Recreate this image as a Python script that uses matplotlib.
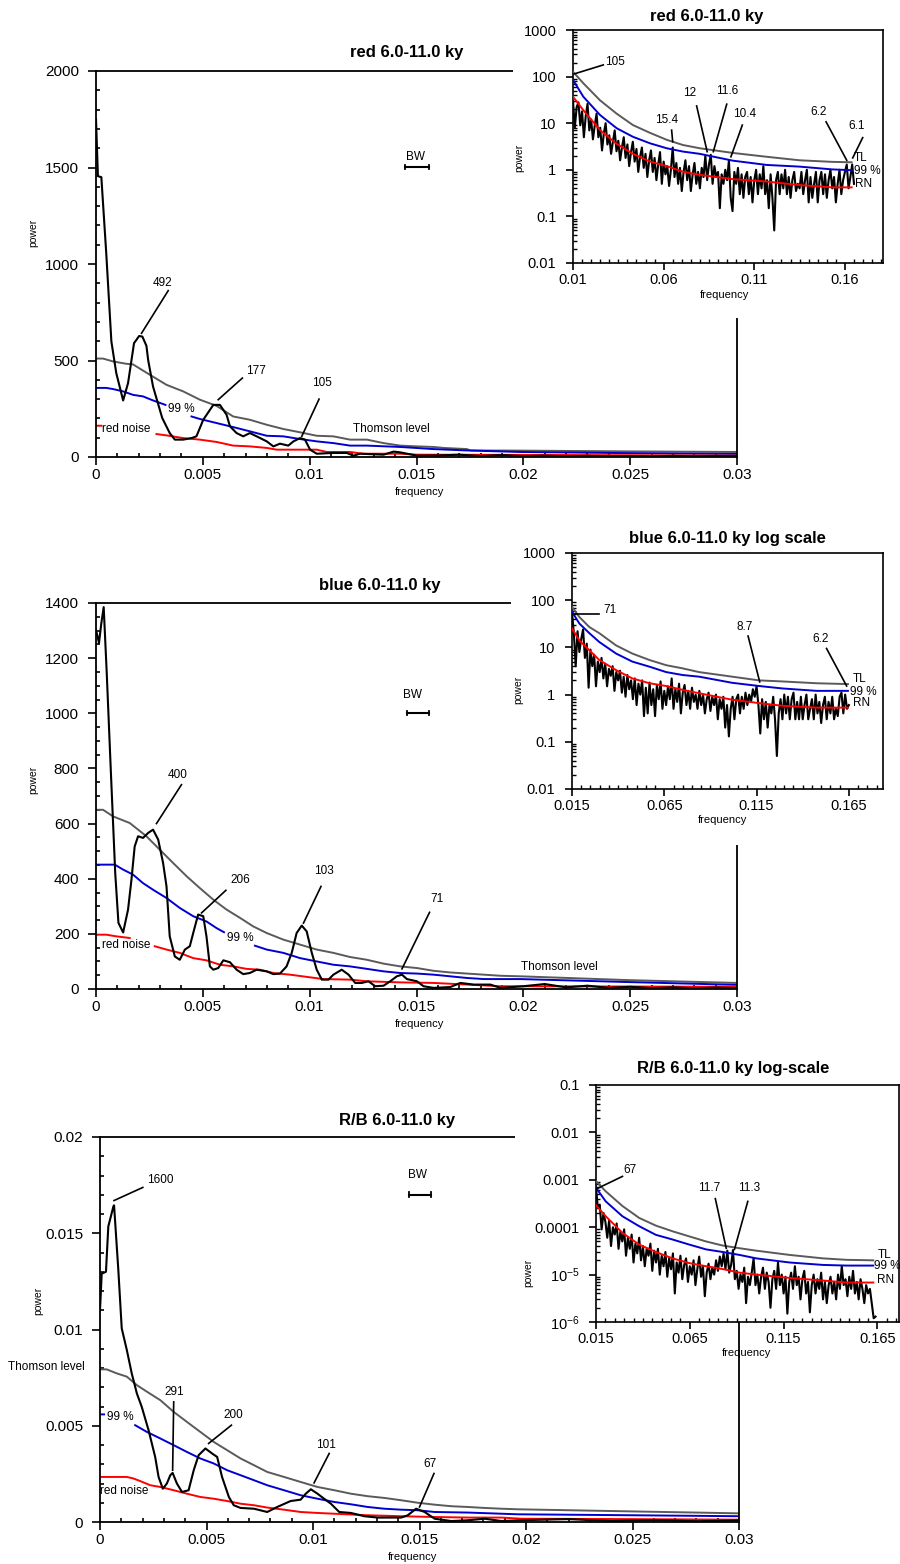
import numpy as np
import matplotlib.pyplot as plt
from matplotlib.patches import Rectangle
from matplotlib.ticker import (MultipleLocator, FixedLocator, FixedFormatter,
                               FormatStrFormatter, LogLocator, NullFormatter)

plt.rcParams['font.family'] = ['Liberation Sans', 'DejaVu Sans']
plt.rcParams['mathtext.default'] = 'regular'

GRAY = '#5a5a5a'
BLUE = '#0000d0'
RED = '#ff0000'

# ---------------- red, linear spectrum ----------------
red_f = [0, 0.00009, 0.00025, 0.00048, 0.00072, 0.00095, 0.00127, 0.0015, 0.00178, 0.00202,
         0.00217, 0.00236, 0.00244, 0.00267, 0.0031, 0.00345, 0.00369, 0.00408, 0.00447, 0.0047,
         0.00502, 0.00549, 0.0058, 0.00611, 0.00627, 0.00658, 0.00689, 0.0072, 0.00752, 0.00799,
         0.0083, 0.00861, 0.009, 0.00924, 0.00955, 0.00978, 0.01002, 0.01033, 0.01111, 0.01174,
         0.01205, 0.01236, 0.01346, 0.01393, 0.01424, 0.01502, 0.016, 0.017, 0.018, 0.019,
         0.02, 0.021, 0.022, 0.023, 0.024, 0.025, 0.026, 0.027, 0.028, 0.029, 0.03]
red_p = [1750, 1455, 1450, 1055, 598, 434, 293, 383, 590, 627,
         624, 576, 503, 365, 202, 124, 90, 90, 98, 107,
         193, 270, 270, 219, 159, 124, 107, 124, 107, 81,
         55, 69, 59, 81, 98, 90, 38, 17, 21, 21,
         7, 17, 12, 28, 24, 7, 8, 12, 5, 10,
         4, 7, 3, 6, 3, 5, 2, 6, 3, 5, 4]
red_tl_f = [0, 0.00033, 0.0008, 0.00142, 0.00173, 0.00252, 0.0033, 0.00408, 0.00486, 0.00564,
            0.00642, 0.0072, 0.00799, 0.00877, 0.00955, 0.01033, 0.01111, 0.01189, 0.01268, 0.01346,
            0.01424, 0.01502, 0.0158, 0.01627, 0.01736, 0.01752, 0.02, 0.025, 0.03]
red_tl_p = [510, 510, 495, 483, 480, 426, 374, 340, 297, 265,
            210, 193, 167, 145, 128, 110, 107, 90, 90, 72,
            59, 55, 52, 47, 41, 34, 33, 29, 26]
red_99_f = [0, 0.00048, 0.0008, 0.00127, 0.00173, 0.0022, 0.00267, 0.00325, 0.0038, 0.00447,
            0.00486, 0.00564, 0.00642, 0.0072, 0.00799, 0.00877, 0.00955, 0.01033, 0.01111, 0.01189,
            0.01268, 0.01424, 0.0158, 0.01736, 0.01987, 0.025, 0.03]
red_99_p = [358, 358, 352, 340, 322, 314, 293, 270, np.nan, 210,
            197, 176, 155, 133, 110, 107, 93, 81, 72, 59,
            59, 52, 41, 34, 26, 20, 16]
red_rn_f = [0, 0.00025, 0.0015, 0.00283, 0.0033, 0.00408, 0.00486, 0.00564, 0.00642, 0.0072,
            0.00799, 0.00846, 0.00955, 0.01033, 0.0108, 0.01189, 0.0125, 0.01424, 0.01502, 0.02,
            0.025, 0.03]
red_rn_p = [162, 162, np.nan, 119, 112, 98, 90, 78, 59, 55,
            47, 38, 38, 38, 26, 26, 17, 17, 12, 11,
            9, 7]
red_notes = [("492", (0.0031, 903), (0.00338, 862), (0.00213, 641)),
             ("177", (0.00747, 446), (0.00685, 409), (0.00572, 297)),
             ("105", (0.01057, 383), (0.01044, 300), (0.00963, 107))]

# ---------------- blue, linear spectrum ----------------
blue_f = [0, 0.00014, 0.00025, 0.00036, 0.0005, 0.0007, 0.0009, 0.00105, 0.00127, 0.0015,
          0.00166, 0.00181, 0.00197, 0.0022, 0.00244, 0.00267, 0.00291, 0.00314, 0.0033, 0.00345,
          0.00369, 0.00392, 0.00416, 0.00439, 0.00455, 0.00478, 0.00502, 0.00517, 0.00533, 0.00549,
          0.00572, 0.00596, 0.00627, 0.00658, 0.00689, 0.0072, 0.00752, 0.00799, 0.0083, 0.00861,
          0.00892, 0.00916, 0.00939, 0.00963, 0.00986, 0.0101, 0.01033, 0.01057, 0.01088, 0.01111,
          0.0115, 0.01182, 0.01213, 0.01244, 0.01275, 0.01307, 0.01346, 0.01377, 0.01408, 0.01432,
          0.01455, 0.01502, 0.01533, 0.0158, 0.01658, 0.01705, 0.01768, 0.01846, 0.01893, 0.02,
          0.021, 0.022, 0.023, 0.024, 0.025, 0.026, 0.027, 0.028, 0.029, 0.03]
blue_p = [1303, 1255, 1327, 1385, 1150, 780, 420, 240, 205, 288,
          397, 517, 554, 548, 566, 578, 542, 457, 372, 191,
          118, 106, 143, 155, 203, 270, 264, 191, 82, 70,
          76, 104, 97, 70, 54, 58, 70, 64, 54, 56,
          82, 131, 203, 230, 209, 131, 70, 34, 34, 52,
          70, 52, 22, 22, 28, 10, 12, 28, 46, 52,
          36, 28, 10, 4, 7, 22, 16, 16, 4, 10,
          18, 6, 12, 4, 8, 3, 6, 2, 5, 3]
blue_tl_f = [0, 0.00033, 0.0008, 0.00158, 0.00236, 0.00299, 0.00361, 0.00424, 0.00486, 0.00549,
             0.00611, 0.00674, 0.00736, 0.00799, 0.00877, 0.00955, 0.01033, 0.01111, 0.01189, 0.01268,
             0.01346, 0.01424, 0.01502, 0.0158, 0.01658, 0.01736, 0.01815, 0.01893, 0.01987, 0.025, 0.03]
blue_tl_p = [650, 650, 626, 602, 554, 505, 457, 409, 366, 324,
             288, 258, 227, 203, 179, 161, 143, 131, 116, 106,
             92, 82, 76, 66, 60, 56, 52, 48, 46, 32, 22]
blue_99_f = [0, 0.00088, 0.00127, 0.00173, 0.0022, 0.00267, 0.0033, 0.00392, 0.00455, 0.00517,
             0.00564, 0.00599, 0.0067, 0.00744, 0.00799, 0.00877, 0.00955, 0.01033, 0.01111, 0.01189,
             0.01268, 0.01346, 0.01424, 0.01502, 0.0158, 0.01658, 0.01736, 0.01815, 0.01987, 0.025, 0.03]
blue_99_p = [451, 451, 433, 415, 384, 360, 330, 294, 264, 245,
             221, 206, np.nan, 157, 143, 131, 112, 100, 88, 82,
             73, 64, 58, 56, 52, 46, 40, 36, 36, 25, 15]
blue_rn_f = [0, 0.00048, 0.00095, 0.00158, 0.002, 0.00275, 0.0033, 0.00392, 0.00455, 0.00517,
             0.0058, 0.00642, 0.00705, 0.00767, 0.0083, 0.00908, 0.00986, 0.01064, 0.01189, 0.01268,
             0.01424, 0.0158, 0.01736, 0.01893, 0.025, 0.03]
blue_rn_p = [197, 197, 191, 185, np.nan, 155, 143, 131, 112, 104,
             88, 82, 73, 70, 58, 52, 44, 36, 34, 28,
             24, 22, 16, 10, 9, 8]
blue_notes = [("400", (0.00384, 777), (0.004, 741), (0.00283, 600)),
              ("206", (0.00674, 394), (0.00608, 358), (0.00494, 276)),
              ("103", (0.01068, 427), (0.01053, 372), (0.00971, 239)),
              ("71", (0.01596, 326), (0.01561, 278), (0.01432, 73))]

# ---------------- R/B, linear spectrum ----------------
rb_f = [0, 0.00008, 0.00028, 0.00039, 0.00063, 0.00066, 0.00086, 0.00102, 0.00126, 0.00149,
        0.00173, 0.00196, 0.00228, 0.00259, 0.00275, 0.00295, 0.00314, 0.0033, 0.00341, 0.00361,
        0.00385, 0.00416, 0.0044, 0.00463, 0.00495, 0.00526, 0.0055, 0.00573, 0.00605, 0.00628,
        0.0066, 0.00723, 0.00785, 0.00832, 0.00895, 0.00942, 0.00966, 0.0099, 0.01021, 0.01052,
        0.01084, 0.01123, 0.01178, 0.01241, 0.01304, 0.01414, 0.01445, 0.01484, 0.01524, 0.01571,
        0.01649, 0.01728, 0.01806, 0.01885, 0.02, 0.022, 0.024, 0.026, 0.028, 0.03]
rb_p = [0.0110, 0.0129, 0.0130, 0.01535, 0.0164, 0.01645, 0.0131, 0.01006, 0.00893, 0.00772,
        0.00668, 0.00598, 0.00477, 0.00338, 0.00234, 0.00173, 0.002, 0.00243, 0.00255, 0.002,
        0.00156, 0.00165, 0.00269, 0.00347, 0.00382, 0.00356, 0.00338, 0.00234, 0.0013, 0.00087,
        0.00073, 0.00069, 0.00052, 0.00078, 0.00109, 0.00116, 0.00147, 0.0017, 0.00147, 0.00121,
        0.00095, 0.00052, 0.00047, 0.0003, 0.00023, 0.00023, 0.00035, 0.00069, 0.00052, 0.00017,
        0.00005, 0.00009, 0.00017, 0.00005, 0.0001, 0.00015, 0.00005, 0.0001, 0.00004, 0.00008]
rb_tl_f = [0, 0.00031, 0.00079, 0.00126, 0.00173, 0.0022, 0.00283, 0.00346, 0.00408, 0.00471,
           0.00534, 0.00597, 0.0066, 0.00723, 0.00785, 0.00864, 0.00942, 0.01021, 0.011, 0.01178,
           0.01257, 0.01335, 0.01414, 0.01492, 0.01571, 0.01649, 0.01728, 0.01806, 0.01885, 0.01963,
           0.025, 0.03]
rb_tl_p = [0.00793, 0.00793, 0.00772, 0.00755, 0.00711, 0.00677, 0.00633, 0.00572, 0.0052, 0.00468,
           0.00416, 0.00373, 0.0033, 0.00295, 0.0026, 0.00234, 0.00208, 0.00182, 0.00165, 0.00147,
           0.00134, 0.00125, 0.00113, 0.001, 0.0009, 0.00082, 0.00078, 0.00073, 0.00069, 0.00066,
           0.00055, 0.00045]
rb_99_f = [0, 0.00019, 0.001, 0.00165, 0.0022, 0.00283, 0.00346, 0.00408, 0.00471, 0.00534,
           0.00597, 0.0066, 0.00723, 0.00785, 0.00864, 0.00942, 0.01021, 0.011, 0.01178, 0.01257,
           0.01335, 0.01414, 0.01492, 0.01571, 0.01728, 0.01885, 0.01963, 0.025, 0.03]
rb_99_p = [0.00559, 0.00559, np.nan, 0.00503, 0.00468, 0.00434, 0.00399, 0.00364, 0.0033, 0.00304,
           0.00269, 0.00243, 0.00217, 0.00191, 0.00165, 0.00139, 0.00121, 0.00104, 0.00092, 0.00078,
           0.00069, 0.00064, 0.00061, 0.00052, 0.00049, 0.00043, 0.0004, 0.00035, 0.0003]
rb_rn_f = [0, 0.00126, 0.00157, 0.00188, 0.00236, 0.00283, 0.00346, 0.00408, 0.00471, 0.00534,
           0.00597, 0.0066, 0.00723, 0.00785, 0.00864, 0.00942, 0.01021, 0.011, 0.01257, 0.01414,
           0.01571, 0.01728, 0.01885, 0.01979, 0.025, 0.03]
rb_rn_p = [0.00234, 0.00234, 0.00226, 0.00213, 0.00191, 0.00182, 0.00165, 0.00147, 0.0013, 0.00121,
           0.00109, 0.00095, 0.00087, 0.00075, 0.00064, 0.00052, 0.00047, 0.00043, 0.00035, 0.0003,
           0.00026, 0.00023, 0.00023, 0.00017, 0.00015, 0.00012]
rb_notes = [("1600", (0.00283, 0.01778), (0.00201, 0.01738), (0.00066, 0.0167)),
            ("291", (0.00349, 0.00673), (0.00346, 0.00624), (0.00341, 0.00269)),
            ("200", (0.00624, 0.00555), (0.00617, 0.00503), (0.0051, 0.00408)),
            ("101", (0.0106, 0.00399), (0.01076, 0.00356), (0.01005, 0.00203)),
            ("67", (0.0155, 0.0030), (0.01568, 0.00252), (0.015, 0.00078))]

# ---------------- log-scale spectra (1 per 0.001 step) ----------------
red_log_p = [30, 8, 22, 28, 9, 18, 5, 14, 26, 7,
             12, 4.5, 9, 16, 5, 8, 2.6, 6, 10, 3.5,
             5.5, 2.2, 4, 7, 2.5, 4.2, 1.6, 3, 5, 1.8,
             3.5, 1.2, 2.4, 4, 1.5, 2.8, 0.9, 1.9, 3, 1.1,
             2.2, 0.7, 1.6, 2.6, 0.9, 1.8, 0.6, 1.3, 2.4, 0.5,
             1.5, 0.8, 1.2, 0.45, 1.0, 3.0, 0.7, 1.4, 0.5, 1.1,
             0.35, 0.9, 1.6, 0.6, 1.2, 0.35, 0.8, 1.4, 0.5, 0.9,
             0.4, 1.1, 0.7, 2.0, 0.6, 1.3, 2.1, 0.5, 1.2, 0.7,
             0.9, 0.15, 0.8, 0.5, 1.0, 0.6, 1.6, 0.25, 0.13, 0.9,
             0.5, 1.1, 0.3, 0.8, 0.25, 0.7, 0.9, 0.3, 0.7, 0.2,
             0.6, 1.0, 0.3, 0.8, 0.4, 1.2, 0.3, 0.6, 0.15, 0.8,
             0.25, 0.05, 0.6, 0.9, 0.3, 0.8, 0.4, 1.0, 0.3, 0.7,
             0.25, 0.6, 0.9, 0.35, 0.5, 0.4, 0.9, 0.3, 0.6, 1.0,
             0.2, 0.7, 0.25, 0.5, 0.9, 0.2, 0.6, 0.9, 0.3, 0.8,
             0.25, 0.6, 1.0, 0.4, 0.7, 0.2, 0.5, 1.0, 0.3, 0.6,
             0.9, 1.3, 0.4, 0.7, 1.3, 0.5]
red_log_tl_f = [0.01, 0.0157, 0.0249, 0.0341, 0.0431, 0.0525, 0.0617, 0.0707, 0.0799, 0.0982,
                0.117, 0.135, 0.153, 0.1637]
red_log_tl_p = [127, 72, 31, 16, 9.1, 6.2, 4.4, 3.4, 2.9, 2.3, 1.9, 1.6, 1.48, 1.45]
red_log_99_p = [85, 37, 15, 7.8, 5.1, 3.7, 2.9, 2.46, 2.2, 1.57, 1.27, 1.17, 1.02, 0.98]
red_log_rn_p = [37, 19, 7.1, 3.6, 2.2, 1.5, 1.2, 0.91, 0.78, 0.63, 0.56, 0.47, 0.42, 0.42]
red_log_notes = [("105", (0.0332, 209), (0.0267, 178), (0.0106, 114)),
                 ("15.4", (0.0617, 11.7), (0.0644, 7.1), (0.065, 4.0)),
                 ("12", (0.0745, 44), (0.0782, 23.5), (0.084, 2.45)),
                 ("11.6", (0.0948, 50), (0.0948, 25.6), (0.0874, 2.45)),
                 ("10.4", (0.1049, 15.8), (0.1034, 9.1), (0.0971, 1.9)),
                 ("6.2", (0.1453, 17.7), (0.1496, 10.7), (0.161, 1.6)),
                 ("6.1", (0.1665, 8.9), (0.1698, 4.9), (0.1643, 1.8))]
red_log_keys = [(0.165, 1.78), (0.165, 0.95), (0.1655, 0.49)]

blue_log_p = [55, 20, 4, 22, 8, 15, 24, 6, 12, 1.4,
              9, 4, 7, 1.5, 5, 3, 6, 2.2, 4.5, 1.5,
              3.5, 2.5, 4, 1.2, 3, 2, 3.2, 1.1, 2.4, 0.9,
              2.6, 1.3, 2.0, 0.8, 2.2, 0.6, 1.7, 1.0, 2.0, 0.35,
              1.4, 0.4, 1.8, 0.6, 1.3, 0.35, 1.6, 0.8, 1.9, 0.5,
              1.2, 0.6, 1.5, 0.8, 2.2, 0.5, 1.3, 0.7, 1.7, 0.4,
              1.1, 1.6, 0.6, 1.2, 0.5, 1.4, 0.7, 1.0, 0.5, 1.2,
              0.6, 1.0, 0.4, 0.8, 1.1, 0.45, 0.9, 0.6, 1.0, 0.3,
              0.8, 0.5, 0.9, 0.2, 0.6, 0.13, 0.5, 0.9, 0.3, 0.8,
              1.0, 0.4, 0.9, 0.5, 1.1, 0.6, 1.0, 0.7, 1.3, 0.9,
              1.5, 0.6, 0.15, 0.8, 0.3, 0.7, 0.2, 0.6, 0.4, 0.9,
              0.3, 0.05, 0.4, 0.8, 0.3, 1.0, 0.4, 0.9, 0.3, 0.8,
              1.1, 0.3, 0.7, 0.3, 0.9, 0.3, 0.6, 1.0, 0.3, 0.5,
              0.8, 0.3, 1.0, 0.4, 0.7, 0.25, 0.6, 0.9, 0.3, 0.7,
              0.4, 0.9, 0.3, 0.5, 0.35, 0.9, 1.1, 0.4, 1.0, 0.5,
              0.6]
blue_log_tl_f = [0.015, 0.019, 0.0244, 0.0298, 0.0389, 0.0477, 0.057, 0.066, 0.0749, 0.0838,
                 0.1017, 0.1164, 0.129, 0.1475, 0.1645]
blue_log_tl_p = [72, 44, 27, 20, 11, 7.4, 5.4, 4.2, 3.6, 3.0, 2.4, 2.0, 1.9, 1.74, 1.67]
blue_log_99_p = [57, 32, 20, 13, 7.4, 5.0, 3.9, 3.0, 2.6, 2.4, 1.78, 1.52, 1.35, 1.2, 1.2]
blue_log_rn_p = [25, 14, 8.7, 5.4, 3.3, 2.2, 1.74, 1.52, 1.26, 1.07, 0.78, 0.66, 0.58, 0.53, 0.53]
blue_log_notes = [("71", (0.0358, 62), (0.0298, 52), (0.0150, 52)),
                  ("8.7", (0.1086, 27.5), (0.1104, 17.4), (0.1167, 1.86)),
                  ("6.2", (0.1498, 15), (0.1529, 9.5), (0.1638, 1.52))]
blue_log_keys = [(0.167, 2.14), (0.1656, 1.15), (0.167, 0.65)]

rb_log_p = [7e-4, 2.5e-4, 3.0e-4, 9e-5, 2.0e-4, 1.3e-4, 6e-5, 1.4e-4, 4e-5, 1.0e-4,
            7e-5, 1.2e-4, 3.5e-5, 8e-5, 5e-5, 9e-5, 2.5e-5, 6e-5, 3.5e-5, 7e-5,
            1.8e-5, 4.5e-5, 2.8e-5, 6e-5, 2.0e-5, 4e-5, 1.5e-5, 3.5e-5, 2.5e-5, 4.5e-5,
            1.2e-5, 3.2e-5, 1.8e-5, 3.5e-5, 1.0e-5, 2.5e-5, 1.5e-5, 3.0e-5, 9e-6, 2.2e-5,
            1.3e-5, 2.8e-5, 4e-6, 1.8e-5, 1.1e-5, 2.5e-5, 8e-6, 1.6e-5, 2.2e-5, 7e-6,
            1.5e-5, 1.0e-5, 2.0e-5, 6e-6, 1.3e-5, 2.4e-5, 9e-6, 1.5e-5, 3.5e-6, 1.1e-5,
            1.7e-5, 8e-6, 1.4e-5, 1.0e-5, 2.0e-5, 1.2e-5, 2.4e-5, 1.5e-5, 2.8e-5, 1.3e-5,
            3.2e-5, 1.1e-5, 1.6e-5, 3.3e-5, 8e-6, 1.2e-5, 5e-6, 1.0e-5, 7e-6, 1.4e-5,
            2.5e-6, 9e-6, 6e-6, 1.1e-5, 2.2e-5, 6e-6, 1.0e-5, 4e-6, 9e-6, 1.4e-5,
            5e-6, 1.1e-5, 7e-6, 2.0e-6, 8e-6, 1.2e-5, 5e-6, 1.8e-5, 6e-6, 1.0e-5,
            4e-6, 9e-6, 1.5e-6, 7e-6, 1.1e-5, 5e-6, 1.5e-5, 6e-6, 9e-6, 3e-6,
            8e-6, 1.2e-5, 4e-6, 7e-6, 1.6e-6, 6e-6, 1.0e-5, 4e-6, 8e-6, 5e-6,
            1.1e-5, 3e-6, 7e-6, 2.5e-6, 6e-6, 9e-6, 4e-6, 7e-6, 3e-6, 1.0e-5,
            5e-6, 1.5e-5, 6e-6, 8e-6, 3.5e-6, 9e-6, 5e-6, 1.2e-5, 4e-6, 7e-6,
            3e-6, 8e-6, 5e-6, 2.5e-6, 6e-6, 4e-6, 5e-6, 2.5e-6, 1.2e-6, 1.3e-6]
rb_log_tl_f = [0.015, 0.0202, 0.0291, 0.038, 0.0469, 0.0558, 0.0647, 0.0737, 0.0825, 0.0915,
               0.1004, 0.1182, 0.136, 0.1485, 0.1628]
rb_log_tl_p = [9.4e-4, 5.7e-4, 2.8e-4, 1.57e-4, 1.08e-4, 8.2e-5, 6.4e-5, 5.0e-5, 4.1e-5, 3.6e-5,
               3.2e-5, 2.6e-5, 2.2e-5, 2.05e-5, 2.0e-5]
rb_log_99_p = [6.8e-4, 3.5e-4, 1.7e-4, 1.05e-4, 6.9e-5, 5.5e-5, 4.3e-5, 3.4e-5, 3.0e-5, 2.6e-5,
               2.2e-5, 1.8e-5, 1.6e-5, 1.55e-5, 1.55e-5]
rb_log_rn_p = [2.9e-4, 1.7e-4, 7.6e-5, 4.3e-5, 3.0e-5, 2.2e-5, 1.75e-5, 1.5e-5, 1.31e-5, 1.1e-5,
               1.0e-5, 8.5e-6, 7.5e-6, 6.8e-6, 6.8e-6]
rb_log_notes = [("67", (0.033, 1.6e-3), (0.0291, 1.18e-3), (0.0148, 6.3e-4)),
                ("11.7", (0.0754, 6.7e-4), (0.0786, 4.0e-4), (0.0844, 3.6e-5)),
                ("11.3", (0.0968, 6.7e-4), (0.0959, 3.5e-4), (0.0888, 3.4e-5))]
rb_log_keys = [(0.165, 2.6e-5), (0.163, 1.5e-5), (0.1646, 7.8e-6)]


W, H = 900, 1564
fig = plt.figure(figsize=(W / 100, H / 100), dpi=100)


def rect(left, top, right, bottom):
    # pixel box -> figure fraction
    return [left / W, 1 - bottom / H, (right - left) / W, (bottom - top) / H]


def leaders(ax, notes, size):
    for label, (tx, ty), (x0, y0), (x1, y1) in notes:
        ax.text(tx, ty, label, ha='center', va='center', fontsize=size, zorder=6)
        ax.plot([x0, x1], [y0, y1], color='k', lw=1.2, zorder=6)


def main_panel(box, ymax, ymaj, ymin, black, tl, c99, rn, notes, bw):
    ax = fig.add_axes(rect(*box), zorder=0)
    ax.plot(*tl, color=GRAY, lw=1.4, zorder=2)
    ax.plot(*c99, color=BLUE, lw=1.4, zorder=2)
    ax.plot(*rn, color=RED, lw=1.4, zorder=2)
    ax.plot(*black, color='k', lw=1.5, zorder=3)
    ax.set_xlim(0, 0.03)
    ax.set_ylim(0, ymax)
    ax.xaxis.set_major_locator(MultipleLocator(0.005))
    ax.xaxis.set_minor_locator(MultipleLocator(0.001))
    ax.yaxis.set_major_locator(MultipleLocator(ymaj))
    ax.yaxis.set_minor_locator(MultipleLocator(ymin))
    ax.xaxis.set_major_formatter(FormatStrFormatter('%g'))
    ax.yaxis.set_major_formatter(FormatStrFormatter('%g'))
    ax.tick_params(which='major', direction='out', length=6, width=1.2, labelsize=11)
    ax.tick_params(which='minor', direction='in', length=3, width=1.2)
    ax.tick_params(axis='y', which='major', pad=6)
    ax.tick_params(axis='x', which='major', pad=2)
    for s in ax.spines.values():
        s.set_linewidth(1.3)
    leaders(ax, notes, 8.5)
    (x0, x1, y), (tx, ty) = bw
    ax.plot([x0, x1], [y, y], color='k', lw=1.5, zorder=5)
    ax.plot([x0, x0], [y - ymax * 0.006, y + ymax * 0.006], color='k', lw=1.3, zorder=5)
    ax.plot([x1, x1], [y - ymax * 0.006, y + ymax * 0.006], color='k', lw=1.3, zorder=5)
    ax.text(tx, ty, "BW", ha='center', va='center', fontsize=8.5)
    return ax


def log_inset(box, xlim, xticks, ylim, yticks, ylabels, f0, p, lines, notes, keys):
    ax = fig.add_axes(rect(*box), zorder=3)
    ax.set_yscale('log')
    f = f0 + 0.001 * np.arange(len(p))
    ax.plot(f, p, color='k', lw=1.5, zorder=2)
    tl_f, tl_p, c99_p, rn_p = lines
    ax.plot(tl_f, tl_p, color=GRAY, lw=1.4, zorder=3)
    ax.plot(tl_f, c99_p, color=BLUE, lw=1.4, zorder=3)
    ax.plot(tl_f, rn_p, color=RED, lw=1.4, zorder=3)
    ax.set_xlim(*xlim)
    ax.set_ylim(*ylim)
    ax.xaxis.set_major_locator(FixedLocator(xticks))
    ax.xaxis.set_major_formatter(FormatStrFormatter('%g'))
    ax.xaxis.set_minor_locator(MultipleLocator(0.005))
    ax.yaxis.set_major_locator(FixedLocator(yticks))
    ax.yaxis.set_major_formatter(FixedFormatter(ylabels))
    ax.yaxis.set_minor_locator(LogLocator(base=10, subs=np.arange(2, 10), numticks=20))
    ax.yaxis.set_minor_formatter(NullFormatter())
    ax.tick_params(which='major', direction='out', length=5, width=1.2, labelsize=10.5)
    ax.tick_params(which='minor', direction='in', length=3, width=1.0)
    ax.tick_params(axis='y', which='major', pad=7)
    ax.tick_params(axis='x', which='major', pad=2)
    for s in ax.spines.values():
        s.set_linewidth(1.2)
    leaders(ax, notes, 8.5)
    for lab, (kx, ky) in zip(["TL", "99 %", "RN"], keys):
        ax.text(kx, ky, lab, ha='left', va='center', fontsize=8.5, zorder=6)
    return ax


# white panels behind the log insets
for l, t, r, b in [(513, 0, 900, 318), (511, 522, 900, 845), (515, 1045, 900, 1290)]:
    fig.add_artist(Rectangle((l / W, 1 - b / H), (r - l) / W, (b - t) / H,
                             transform=fig.transFigure, facecolor='white',
                             edgecolor='none', zorder=1))

# --- red ---
ax1 = main_panel((96, 71, 737, 457), 2000, 500, 100,
                 (red_f, red_p), (red_tl_f, red_tl_p), (red_99_f, red_99_p), (red_rn_f, red_rn_p),
                 red_notes, ((0.01444, 0.01557, 1502), (0.01494, 1555)))
ax1.text(0.00338, 248, "99 %", fontsize=8.5, va='center')
ax1.text(0.0003, 145, "red noise", fontsize=8.5, va='center')
ax1.text(0.01205, 145, "Thomson level", fontsize=8.5, va='center')

# --- blue ---
ax2 = main_panel((96, 603, 737, 989), 1400, 200, 50,
                 (blue_f, blue_p), (blue_tl_f, blue_tl_p), (blue_99_f, blue_99_p), (blue_rn_f, blue_rn_p),
                 blue_notes, ((0.01455, 0.01557, 1001), (0.01483, 1068)))
ax2.text(0.00611, 185, "99 %", fontsize=8.5, va='center')
ax2.text(0.0003, 161, "red noise", fontsize=8.5, va='center')
ax2.text(0.0199, 80, "Thomson level", fontsize=8.5, va='center')

# --- R/B ---
ax3 = main_panel((100, 1137, 739, 1522), 0.02, 0.005, 0.001,
                 (rb_f, rb_p), (rb_tl_f, rb_tl_p), (rb_99_f, rb_99_p), (rb_rn_f, rb_rn_p),
                 rb_notes, ((0.01453, 0.01555, 0.017), (0.01492, 0.018)))
ax3.text(0.00031, 0.00546, "99 %", fontsize=8.5, va='center')
ax3.text(0.0, 0.0016, "red noise", fontsize=8.5, va='center')
ax3.text(-0.0007, 0.00807, "Thomson level", fontsize=8.5, va='center', ha='right', clip_on=False)

for (x, y, s) in [(407, 53, "red 6.0-11.0 ky"), (380, 586, "blue 6.0-11.0 ky"),
                  (397, 1120, "R/B 6.0-11.0 ky")]:
    fig.text(x / W, 1 - y / H, s, ha='center', va='center', fontsize=12, fontweight='bold')
for (x, y) in [(33, 233), (33, 780), (38, 1301)]:
    fig.text(x / W, 1 - y / H, "power", ha='center', va='center', rotation=90, fontsize=7.5)
for (x, y) in [(420, 492), (420, 1024), (413, 1557)]:
    fig.text(x / W, 1 - y / H, "frequency", ha='center', va='center', fontsize=8)

# --- log insets ---
log_inset((573, 30, 883, 263), (0.01, 0.181), [0.01, 0.06, 0.11, 0.16], (0.01, 1000),
          [0.01, 0.1, 1, 10, 100, 1000], ["0.01", "0.1", "1", "10", "100", "1000"],
          0.010, red_log_p, (red_log_tl_f, red_log_tl_p, red_log_99_p, red_log_rn_p),
          red_log_notes, red_log_keys)
log_inset((572, 553, 883, 789), (0.015, 0.1835), [0.015, 0.065, 0.115, 0.165], (0.01, 1000),
          [0.01, 0.1, 1, 10, 100, 1000], ["0.01", "0.1", "1", "10", "100", "1000"],
          0.015, blue_log_p, (blue_log_tl_f, blue_log_tl_p, blue_log_99_p, blue_log_rn_p),
          blue_log_notes, blue_log_keys)
log_inset((596, 1085, 899, 1322), (0.015, 0.1765), [0.015, 0.065, 0.115, 0.165], (1e-6, 0.1),
          [1e-6, 1e-5, 1e-4, 1e-3, 1e-2, 1e-1],
          ["10$^{-6}$", "10$^{-5}$", "0.0001", "0.001", "0.01", "0.1"],
          0.015, rb_log_p, (rb_log_tl_f, rb_log_tl_p, rb_log_99_p, rb_log_rn_p),
          rb_log_notes, rb_log_keys)

for (x, y, s) in [(707, 17, "red 6.0-11.0 ky"), (727, 538, "blue 6.0-11.0 ky log scale"),
                  (733, 1068, "R/B 6.0-11.0 ky log-scale")]:
    fig.text(x / W, 1 - y / H, s, ha='center', va='center', fontsize=12, fontweight='bold',
             zorder=5)
for (x, y) in [(519, 158), (518, 690), (528, 1273)]:
    fig.text(x / W, 1 - y / H, "power", ha='center', va='center', rotation=90, fontsize=7.5,
             zorder=5)
for (x, y) in [(725, 295), (723, 820), (747, 1353)]:
    fig.text(x / W, 1 - y / H, "frequency", ha='center', va='center', fontsize=8, zorder=5)

fig.savefig("out.png", dpi=100)
